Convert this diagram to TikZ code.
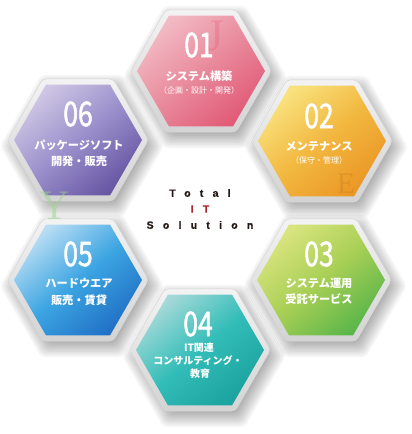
\documentclass[tikz,border=0pt]{standalone}
\usepackage{fontspec}
\setmainfont{Liberation Sans}
\newfontfamily\jp{Noto Sans CJK JP}
\newfontfamily\jpnum[FakeStretch=0.78,FakeBold=1.4]{Noto Sans CJK JP}
\newfontfamily\ttl[LetterSpace=88,FakeBold=0.6]{Liberation Sans Bold}
\newfontfamily\wm{Liberation Serif}
\usetikzlibrary{shapes.geometric}

\definecolor{fr1}{HTML}{F3F3F3}
\definecolor{fr2}{HTML}{D3D3D3}
\definecolor{fr3}{HTML}{D8D8D8}
\definecolor{a1}{HTML}{F2BAC4}\definecolor{b1}{HTML}{E98A9C}\definecolor{c1}{HTML}{E15B77}
\definecolor{a2}{HTML}{F9E27E}\definecolor{b2}{HTML}{F2B840}\definecolor{c2}{HTML}{EB9725}
\definecolor{a3}{HTML}{D9E47E}\definecolor{b3}{HTML}{A8CF55}\definecolor{c3}{HTML}{5BB64A}
\definecolor{a4}{HTML}{A4D9D8}\definecolor{b4}{HTML}{33BDB8}\definecolor{c4}{HTML}{1BA39F}
\definecolor{a5}{HTML}{B7DCF3}\definecolor{b5}{HTML}{3CA5E2}\definecolor{c5}{HTML}{2171C6}
\definecolor{a6}{HTML}{CEC6E4}\definecolor{b6}{HTML}{9A8FCB}\definecolor{c6}{HTML}{6756A4}
\definecolor{ink}{HTML}{231815}
\definecolor{itred}{HTML}{A8252E}

\tikzset{
  frame/.style={regular polygon, regular polygon sides=6, minimum size=141pt,
    inner sep=0pt, rounded corners=4pt, top color=fr1, bottom color=fr2,
    draw=fr3, line width=0.5pt},
  face/.style n args={3}{regular polygon, regular polygon sides=6,
    minimum size=128pt, inner sep=0pt, top color=#1, bottom color=#3,
    middle color=#2, shading angle=40},
  num/.style={text=white, font=\jpnum\fontsize{34}{34}\selectfont, inner sep=0pt},
  lab/.style={text=white, font=\jp\bfseries\fontsize{11.2}{13}\selectfont, inner sep=0pt},
  labs/.style={text=white, font=\jp\bfseries\fontsize{10}{12}\selectfont, inner sep=0pt},
  sub/.style={text=white, font=\jp\fontsize{8}{9}\selectfont, inner sep=0pt},
  ttlstyle/.style={font=\ttl\fontsize{10.5}{12}\selectfont, inner sep=0pt},
  wmark/.style={font=\wm\fontsize{#1}{#1}\selectfont, inner sep=0pt}
}

\newcommand\hexshadow[1]{%
  \foreach \r in {62,64,...,82}{%
    \fill[black, opacity=0.035, rounded corners=4pt, shift={(#1)}, shift={(4,6)}]
      (0:\r) -- (60:\r) -- (120:\r) -- (180:\r) -- (240:\r) -- (300:\r) -- cycle;}}

\begin{document}
\begin{tikzpicture}[x=1pt,y=-1pt]
\useasboundingbox (0,0) rectangle (412,434);
\fill[white] (0,0) rectangle (412,434);

% shadows
\hexshadow{201,71}
\hexshadow{322,141}
\hexshadow{321,280}
\hexshadow{200,350}
\hexshadow{78,280}
\hexshadow{78,140}

% frames
\node[frame] (o1) at (201,71) {};
\node[frame] (o2) at (322,141) {};
\node[frame] (o3) at (321,280) {};
\node[frame] (o4) at (200,350) {};
\node[frame] (o5) at (78,280) {};
\node[frame] (o6) at (78,140) {};

% faces
\node[face={a1}{b1}{c1}] (h1) at (201,71) {};
\node[face={a2}{b2}{c2}] (h2) at (322,141) {};
\node[face={a3}{b3}{c3}] (h3) at (321,280) {};
\node[face={a4}{b4}{c4}] (h4) at (200,350) {};
\node[face={a5}{b5}{c5}] (h5) at (78,280) {};
\node[face={a6}{b6}{c6}] (h6) at (78,140) {};

% watermark letters
\node[wmark=45, text=c1, opacity=0.3] (wj) at (215,36) {J};
\node[wmark=30, text=c2!80!black, opacity=0.3] (we) at (346,184) {E};
\node[wmark=42, text=c3!60!white, opacity=0.5] (wy) at (55,206) {Y};

% 01
\node[num] (n1) at (199,45) {01};
\node[lab] (l1) at (199,76) {システム構築};
\node[sub] (s1) at (199,90) {（企画・設計・開発）};
% 02
\node[num] (n2) at (319,116) {02};
\node[lab] (l2) at (319,146) {メンテナンス};
\node[sub] (s2) at (319,160) {（保守・管理）};
% 03
\node[num] (n3) at (319,254) {03};
\node[lab] (l3a) at (319,283) {システム運用};
\node[lab] (l3b) at (319,299) {受託サービス};
% 04
\node[num] (n4) at (198,324) {04};
\node[labs] (l4a) at (199,348) {IT関連};
\node[labs] (l4b) at (198,361) {コンサルティング・};
\node[labs] (l4c) at (200,374) {教育};
% 05
\node[num] (n5) at (78,254) {05};
\node[lab] (l5a) at (79,283) {ハードウエア};
\node[lab] (l5b) at (79,300) {販売・賃貸};
% 06
\node[num] (n6) at (78,114) {06};
\node[lab] (l6a) at (79,145) {パッケージソフト};
\node[lab] (l6b) at (79,161) {開発・販売};

% centre title
\node[ttlstyle, text=ink] (t1) at (200,193) {Total};
\node[ttlstyle, text=itred] (t2) at (200,209) {IT};
\node[ttlstyle, text=ink] (t3) at (200,225) {Solution};
\end{tikzpicture}
\end{document}
